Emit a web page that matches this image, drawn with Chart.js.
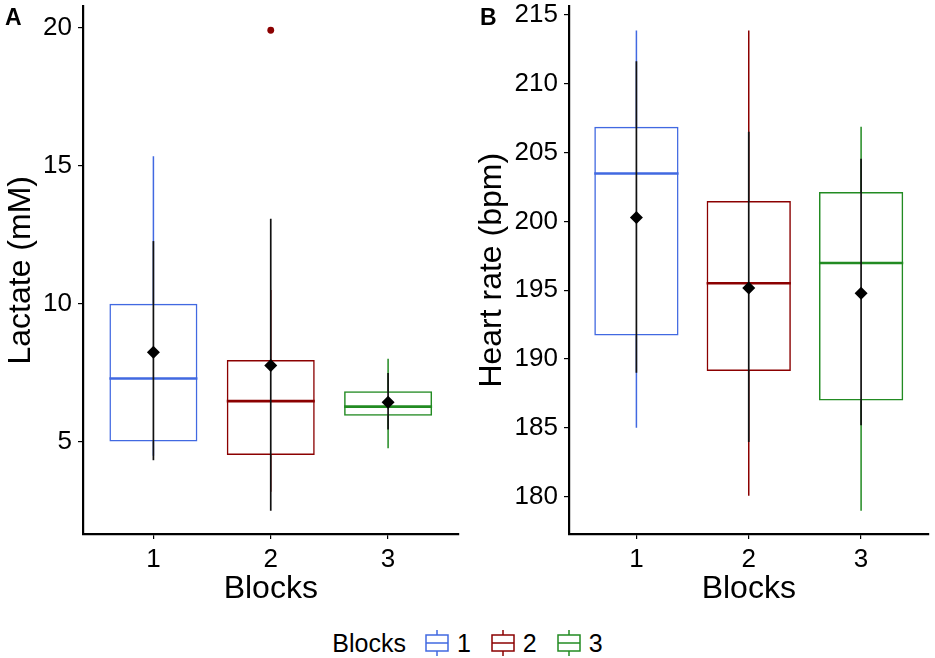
<!DOCTYPE html>
<html>
<head>
<meta charset="utf-8">
<script src="https://cdn.jsdelivr.net/npm/chart.js"></script>
<style>
body{margin:0;background:#fff;width:935px;height:658px;position:relative;overflow:hidden;font-family:'Liberation Sans',Arial,sans-serif;color:#000}
#wa{position:absolute;left:0;top:0;width:465px;height:620px}
#wb{position:absolute;left:465px;top:0;width:470px;height:620px}
.tag{position:absolute;top:6px;font-weight:bold;font-size:23px;line-height:1}
#legend{position:absolute;left:0;right:0;top:628px;height:30px;display:flex;justify-content:center;align-items:center;font-size:25px;line-height:30px}
#legend svg{display:block}
</style>
</head>
<body>
<div id="wa"><canvas id="chartA"></canvas></div>
<div id="wb"><canvas id="chartB"></canvas></div>
<div class="tag" style="left:5px">A</div>
<div class="tag" style="left:480px">B</div>
<div id="legend"></div>

<script>
var FONT = "'Liberation Sans', Arial, sans-serif";

var categories = ['1', '2', '3'];
var xTicks = [1, 2, 3];
var blockColors = ['#4169E1', '#8B0000', '#228B22'];

// A: lactate (mM)
var lacQ1 = [5.02, 4.53, 5.95];
var lacMedian = [7.30, 6.48, 6.28];
var lacQ3 = [10.00, 7.97, 6.84];
var lacWhiskLow = [4.50, 3.20, 4.77];
var lacWhiskHigh = [15.34, 10.50, 8.01];
var lacMean = [8.25, 7.77, 6.44];
var lacErrLow = [4.34, 2.51, 5.45];
var lacErrHigh = [12.27, 13.08, 7.50];
var lacOutliers = [{x: 2, y: 19.9}];
var lacTicks = [5, 10, 15, 20];

// B: heart rate (bpm)
var hrQ1 = [191.72, 189.14, 187.00];
var hrMedian = [203.47, 195.51, 196.98];
var hrQ3 = [206.87, 201.47, 202.14];
var hrWhiskLow = [185.02, 180.07, 178.98];
var hrWhiskHigh = [213.86, 213.86, 206.87];
var hrMean = [200.28, 195.17, 194.78];
var hrErrLow = [189.00, 183.98, 185.20];
var hrErrHigh = [211.62, 206.50, 204.55];
var hrOutliers = [];
var hrTicks = [180, 185, 190, 195, 200, 205, 210, 215];

// whiskers, medians and mean +/- error bars, drawn right after the boxes
var boxExtras = {
    id: 'boxExtras',
    afterDatasetDraw: function(chart, args, opts) {
        if (args.index !== 2) return;
        var ctx = chart.ctx, y = chart.scales.y;
        ctx.save();
        ctx.lineCap = 'butt';
        args.meta.data.forEach(function(bar, i) {
            var cx = bar.x, hw = bar.width / 2;
            ctx.strokeStyle = blockColors[i];
            ctx.lineWidth = 1.5;
            ctx.beginPath();
            ctx.moveTo(cx, y.getPixelForValue(opts.q3[i]));
            ctx.lineTo(cx, y.getPixelForValue(opts.whiskHigh[i]));
            ctx.moveTo(cx, y.getPixelForValue(opts.q1[i]));
            ctx.lineTo(cx, y.getPixelForValue(opts.whiskLow[i]));
            ctx.stroke();
            ctx.lineWidth = 2.6;
            ctx.beginPath();
            var my = y.getPixelForValue(opts.median[i]);
            ctx.moveTo(cx - hw, my);
            ctx.lineTo(cx + hw, my);
            ctx.stroke();
            ctx.strokeStyle = '#111';
            ctx.lineWidth = 1.7;
            ctx.beginPath();
            ctx.moveTo(cx, y.getPixelForValue(opts.errLow[i]));
            ctx.lineTo(cx, y.getPixelForValue(opts.errHigh[i]));
            ctx.stroke();
        });
        ctx.restore();
    }
};

function makePanel(id, d) {
    var boxes = categories.map(function(c, i) { return {x: xTicks[i], y: [d.q1[i], d.q3[i]]}; });
    var means = categories.map(function(c, i) { return {x: xTicks[i], y: d.mean[i]}; });
    return new Chart(document.getElementById(id), {
        type: 'bar',
        data: {
            datasets: [{
                type: 'scatter',
                data: means,
                pointStyle: 'rectRot',
                pointRadius: 6.5,
                backgroundColor: '#000',
                borderColor: '#000',
                borderWidth: 0
            }, {
                type: 'scatter',
                data: d.outliers,
                pointStyle: 'circle',
                pointRadius: 3.4,
                backgroundColor: '#8B0000',
                borderWidth: 0
            }, {
                type: 'bar',
                data: boxes,
                backgroundColor: 'rgba(0,0,0,0)',
                borderColor: blockColors,
                borderWidth: 1.5,
                borderSkipped: false,
                categoryPercentage: 1,
                barPercentage: 0.75
            }]
        },
        options: {
            responsive: true,
            maintainAspectRatio: false,
            animation: false,
            layout: {padding: {top: 4, right: d.padRight, bottom: 0, left: 0}},
            plugins: {
                legend: {display: false},
                tooltip: {enabled: false},
                boxExtras: d
            },
            scales: {
                x: {
                    type: 'linear',
                    min: 0.4,
                    max: 3.6,
                    offset: false,
                    afterBuildTicks: function(s) { s.ticks = xTicks.map(function(v) { return {value: v}; }); },
                    afterFit: function(s) { s.height = 86; s.paddingLeft = 0; s.paddingRight = 0; },
                    grid: {offset: false, drawOnChartArea: false, drawTicks: true, tickLength: 5, color: '#000', lineWidth: 1.2},
                    border: {display: true, color: '#000', width: 2.2},
                    ticks: {
                        color: '#000', font: {family: FONT, size: 26}, padding: 5, maxRotation: 0, autoSkip: false,
                        callback: function(v) { return categories[xTicks.indexOf(v)]; }
                    },
                    title: {display: true, text: 'Blocks', color: '#000', font: {family: FONT, size: 32}, padding: {top: 0, bottom: 12}}
                },
                y: {
                    min: d.yMin,
                    max: d.yMax,
                    afterBuildTicks: function(s) { s.ticks = d.ticks.map(function(v) { return {value: v}; }); },
                    afterFit: function(s) { s.width = d.yWidth; s.paddingTop = 0; s.paddingBottom = 0; },
                    grid: {drawOnChartArea: false, drawTicks: true, tickLength: 5, color: '#000', lineWidth: 1.2},
                    border: {display: true, color: '#000', width: 2.2},
                    ticks: {color: '#000', font: {family: FONT, size: 26}, padding: 6},
                    title: {display: true, text: d.title, color: '#000', font: {family: FONT, size: 32}, padding: {top: d.titlePad, bottom: 0}}
                }
            }
        },
        plugins: [boxExtras]
    });
}

makePanel('chartA', {
    q1: lacQ1, median: lacMedian, q3: lacQ3, whiskLow: lacWhiskLow, whiskHigh: lacWhiskHigh,
    mean: lacMean, errLow: lacErrLow, errHigh: lacErrHigh, outliers: lacOutliers,
    ticks: lacTicks, yMin: 1.67, yMax: 20.76, title: 'Lactate (mM)',
    yWidth: 83, padRight: 6, titlePad: 2
});

makePanel('chartB', {
    q1: hrQ1, median: hrMedian, q3: hrQ3, whiskLow: hrWhiskLow, whiskHigh: hrWhiskHigh,
    mean: hrMean, errLow: hrErrLow, errHigh: hrErrHigh, outliers: hrOutliers,
    ticks: hrTicks, yMin: 177.3, yMax: 215.6, title: 'Heart rate (bpm)',
    yWidth: 104, padRight: 4, titlePad: 8
});

// legend (ggplot style, under both panels)
var legend = document.getElementById('legend');
var html = '<span style="margin-right:19px">Blocks</span>';
categories.forEach(function(c, i) {
    var col = blockColors[i];
    html += '<svg width="24" height="26" viewBox="0 0 24 26" style="margin-right:8px">' +
        '<line x1="12" y1="0" x2="12" y2="5" stroke="' + col + '" stroke-width="1.5"/>' +
        '<line x1="12" y1="21" x2="12" y2="26" stroke="' + col + '" stroke-width="1.5"/>' +
        '<rect x="1" y="5" width="22" height="16" fill="none" stroke="' + col + '" stroke-width="1.5"/>' +
        '<line x1="1" y1="13" x2="23" y2="13" stroke="' + col + '" stroke-width="1.5"/>' +
        '</svg><span style="margin-right:' + (i < 2 ? 20 : 0) + 'px">' + c + '</span>';
});
legend.innerHTML = html;
</script>
</body>
</html>
